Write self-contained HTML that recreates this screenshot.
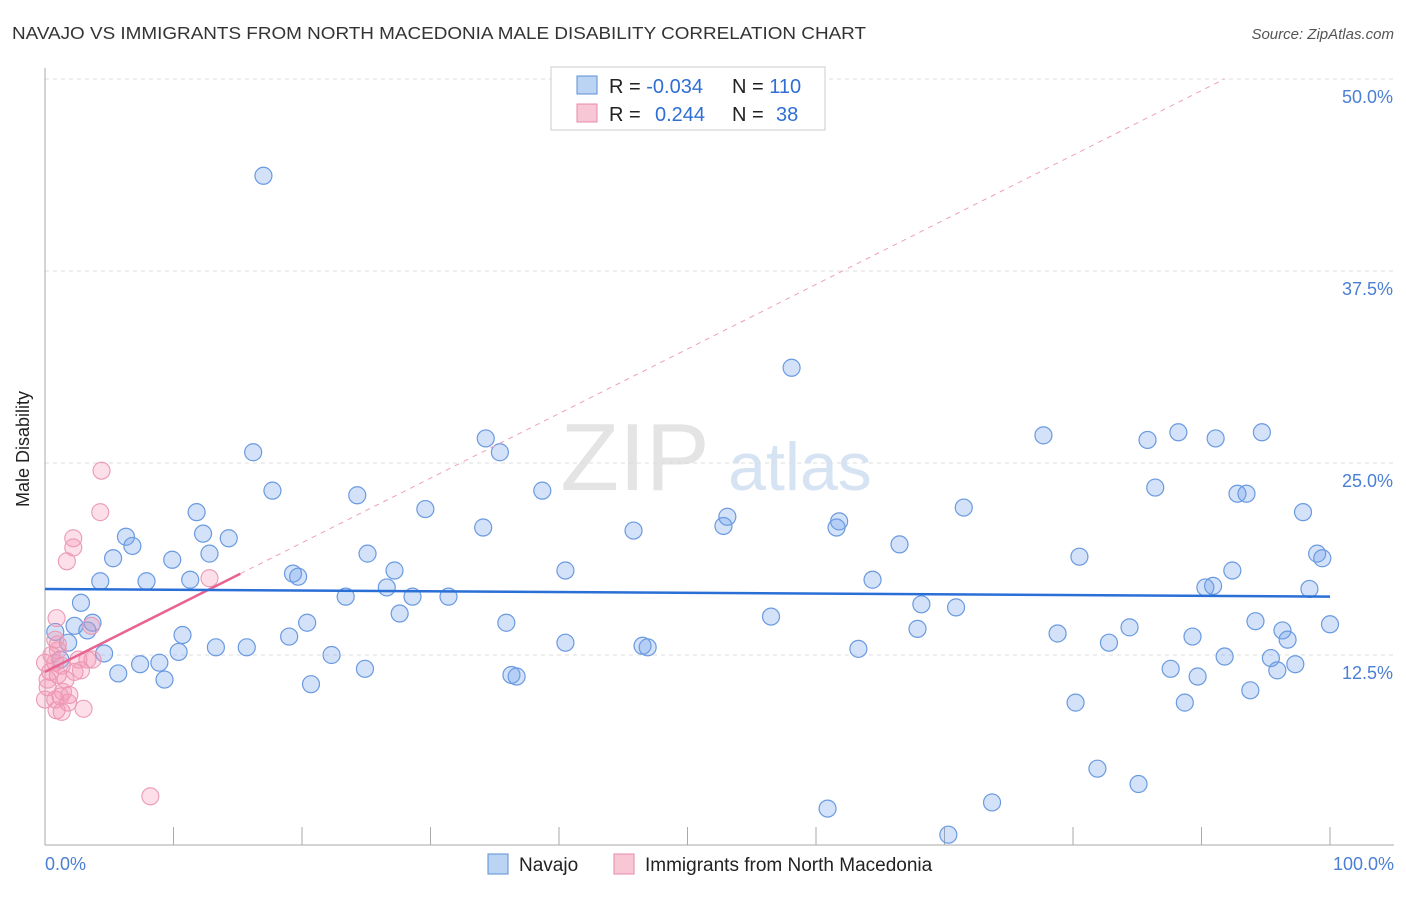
<!DOCTYPE html>
<html><head><meta charset="utf-8"><style>
body{margin:0;background:#fff;font-family:"Liberation Sans",sans-serif;}
svg text{font-family:"Liberation Sans",sans-serif;}
</style></head><body>
<svg id="chart" width="1406" height="892">
<text x="12" y="39" font-size="17.5" fill="#333" textLength="854" lengthAdjust="spacingAndGlyphs">NAVAJO VS IMMIGRANTS FROM NORTH MACEDONIA MALE DISABILITY CORRELATION CHART</text>
<text x="1394" y="39" font-size="15" fill="#555" text-anchor="end" font-style="italic">Source: ZipAtlas.com</text>
<text x="635" y="490" font-size="96" fill="#e4e4e4" font-family="Liberation Serif" text-anchor="middle">ZIP</text>
<text x="800" y="490" font-size="68" fill="#d6e3f3" text-anchor="middle">atlas</text>
<g id="grid"></g><g id="marks"></g>
<text x="36" y="456" font-size="18" fill="#222" transform="rotate(-90 29 456)" text-anchor="middle">Male Disability</text>
<text x="45" y="870" font-size="18" fill="#4a7fd4">0.0%</text>
<text x="1394" y="870" font-size="18" fill="#4a7fd4" text-anchor="end">100.0%</text>
<g>
<rect x="551" y="67" width="274" height="63" fill="#fff" stroke="#ccc"/>
<rect x="577" y="76" width="20" height="18" fill="#bcd4f4" stroke="#5b8fd6"/>
<rect x="577" y="104" width="20" height="18" fill="#f8c7d6" stroke="#e68aa8"/>
<text x="609" y="93" font-size="20" fill="#222">R = <tspan fill="#2f6fd4">-0.034</tspan></text>
<text x="732" y="93" font-size="20" fill="#222">N = <tspan fill="#2f6fd4">110</tspan></text>
<text x="609" y="121" font-size="20" fill="#222">R = <tspan fill="#2f6fd4" x="655">0.244</tspan></text>
<text x="732" y="121" font-size="20" fill="#222">N = <tspan fill="#2f6fd4" x="776">38</tspan></text>
</g>
<g>
<rect x="488" y="854" width="20" height="20" fill="#bcd4f4" stroke="#5b8fd6"/>
<text x="519" y="871" font-size="19" fill="#222">Navajo</text>
<rect x="614" y="854" width="20" height="20" fill="#f8c7d6" stroke="#e68aa8"/>
<text x="645" y="871" font-size="19" fill="#222">Immigrants from North Macedonia</text>
</g>
</svg>
<script>
const yTicks=[12.5,25,37.5,50];
const yTickLabels=["12.5%","25.0%","37.5%","50.0%"];
const navajoX=[17.0,58.1,16.2,34.3,35.4,17.7,24.3,38.7,29.6,11.8,6.3,6.8,12.3,14.3,5.3,9.9,12.8,34.1,45.8,53.1,52.8,61.8,61.6,66.5,71.5,77.7,85.8,88.2,91.1,94.7,86.4,92.8,93.5,97.9,99.0,99.4,80.5,92.4,90.3,90.9,98.4,4.3,7.9,11.3,19.3,19.7,25.1,27.2,40.5,26.6,23.4,28.6,31.4,64.4,2.8,27.6,20.4,35.9,56.5,68.2,70.9,94.2,100,0.8,2.3,3.7,3.3,10.7,19.0,67.9,78.8,84.4,96.3,96.7,89.3,82.8,1.8,4.6,13.3,15.7,10.4,22.3,40.5,46.5,46.9,63.3,91.8,95.4,95.9,97.3,1.2,7.4,8.9,5.7,9.3,24.9,36.3,36.7,20.7,87.6,89.7,93.8,80.2,88.7,81.9,85.1,60.9,73.7,70.3];
const navajoY=[43.7,31.2,25.7,26.6,25.7,23.2,22.9,23.2,22.0,21.8,20.2,19.6,20.4,20.1,18.8,18.7,19.1,20.8,20.6,21.5,20.9,21.2,20.8,19.7,22.1,26.8,26.5,27.0,26.6,27.0,23.4,23.0,23.0,21.8,19.1,18.8,18.9,18.0,16.9,17.0,16.8,17.3,17.3,17.4,17.8,17.6,19.1,18.0,18.0,16.9,16.3,16.3,16.3,17.4,15.9,15.2,14.6,14.6,15.0,15.8,15.6,14.7,14.5,14.0,14.4,14.6,14.1,13.8,13.7,14.2,13.9,14.3,14.1,13.5,13.7,13.3,13.3,12.6,13.0,13.0,12.7,12.5,13.3,13.1,13.0,12.9,12.4,12.3,11.5,11.9,12.2,11.9,12.0,11.3,10.9,11.6,11.2,11.1,10.6,11.6,11.1,10.2,9.4,9.4,5.1,4.1,2.5,2.9,0.8];
const macX=[4.4,4.3,2.2,2.2,1.7,12.8,0.9,3.6,3.7,3.3,1.0,8.2,0.5,0.8,1.3,0.4,1.0,2.3,1.6,0.2,1.4,0.8,1.9,1.8,0.9,1.3,3.0,0.2,1.0,0.8,0,2.6,0,2.8,1.2];
const macY=[24.5,21.8,20.1,19.5,18.6,17.5,14.9,14.4,12.2,12.2,13.2,3.3,12.5,12.0,11.8,11.4,11.2,11.4,10.9,10.4,10.1,9.6,9.9,9.4,8.9,8.8,9.0,10.9,12.8,13.5,12.0,12.2,9.6,11.5,9.8];
const navajoTrend=[16.8,16.3];
const macTrend=[11.4,50.0];
const macTrendSolidEnd=15.2, macTrendDashEnd=91.8;

const X0=45,X1=1330,Y0=847,PXPER=192/12.5;
const sx=v=>X0+(X1-X0)*v/100;
const sy=v=>Y0-v*PXPER;
const NS="http://www.w3.org/2000/svg";
const grid=document.getElementById('grid'),marks=document.getElementById('marks');
function mk(p,tag,a){const e=document.createElementNS(NS,tag);for(const k in a)e.setAttribute(k,a[k]);p.appendChild(e);return e;}
yTicks.forEach((t,i)=>{
 const l=mk(grid,'line',{x1:X0,x2:1394,y1:sy(t),y2:sy(t),stroke:'#ddd','stroke-dasharray':'4,4'});
 
 
 const tx=mk(grid,'text',{x:1393,y:sy(t)+24,'font-size':18,fill:'#4a7fd4','text-anchor':'end'});
 tx.textContent=yTickLabels[i];
 
 
});
mk(grid,'line',{x1:X0,x2:X0,y1:68,y2:845,stroke:'#aaa'});
mk(grid,'line',{x1:X0,x2:1394,y1:845,y2:845,stroke:'#aaa'});
for(let i=0;i<=10;i++){const t=mk(grid,'line',{x1:sx(i*10),x2:sx(i*10),y1:827,y2:845,stroke:'#aaa'});
 
 }
navajoX.forEach((x,i)=>{const c=mk(marks,'circle',{cx:sx(x),cy:sy(navajoY[i]),r:8.5,fill:'rgba(110,160,235,0.3)',stroke:'#6a9ae0','stroke-width':1.2});
 
 });
macX.forEach((x,i)=>{const c=mk(marks,'circle',{cx:sx(x),cy:sy(macY[i]),r:8.5,fill:'rgba(245,150,180,0.3)',stroke:'#eb9ab5','stroke-width':1.1});
 
 });
const ms=(macTrend[1]-macTrend[0])/macTrendDashEnd;
const d=mk(marks,'line',{x1:sx(macTrendSolidEnd),y1:sy(macTrend[0]+ms*macTrendSolidEnd),x2:sx(macTrendDashEnd),y2:sy(macTrend[1]),stroke:'#eea0b8','stroke-dasharray':'5,5','stroke-width':1});


const p=mk(marks,'line',{x1:sx(0),y1:sy(macTrend[0]),x2:sx(macTrendSolidEnd),y2:sy(macTrend[0]+ms*macTrendSolidEnd),stroke:'#e8638f','stroke-width':2.5});


const b=mk(marks,'line',{x1:sx(0),y1:sy(navajoTrend[0]),x2:sx(100),y2:sy(navajoTrend[1]),stroke:'#2a6fd6','stroke-width':2.5});


</script>
</body></html>
